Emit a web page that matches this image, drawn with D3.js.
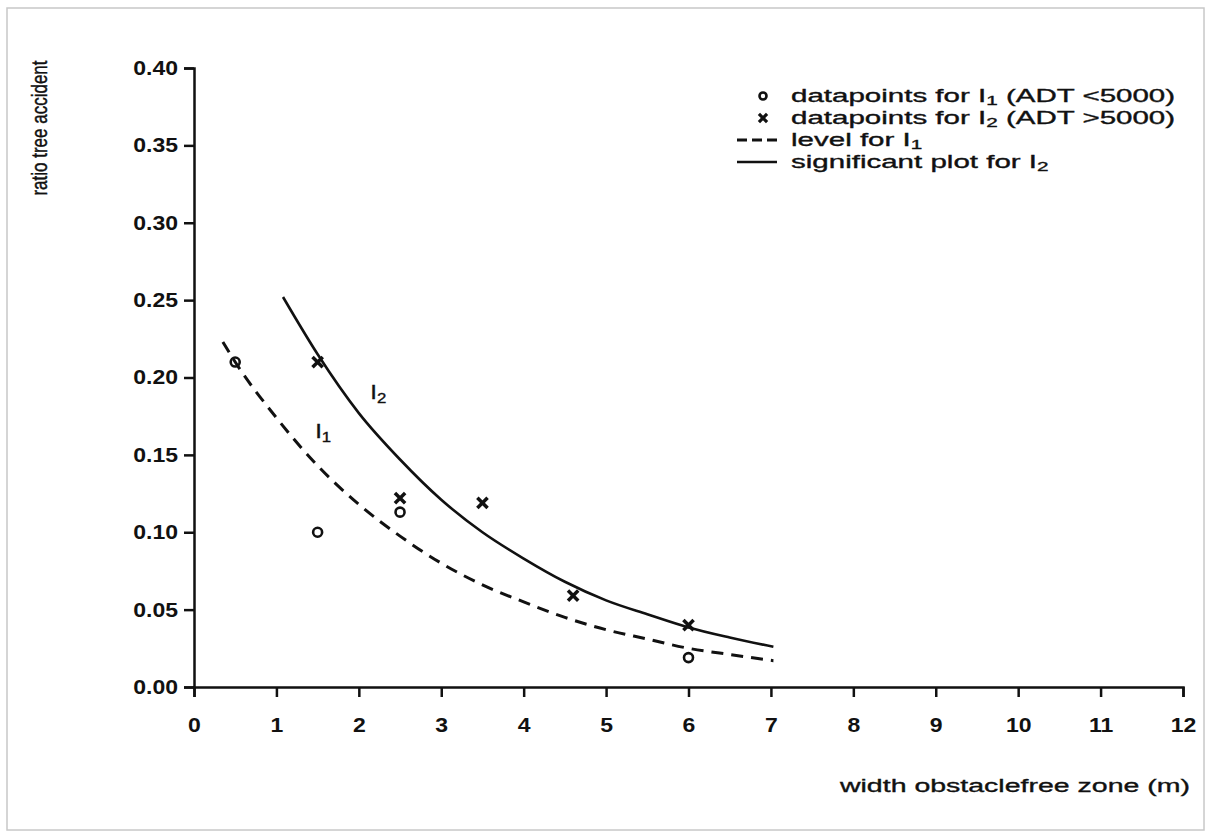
<!DOCTYPE html>
<html>
<head>
<meta charset="utf-8">
<script src="https://cdn.jsdelivr.net/npm/d3@7"></script>
<style>
  body { margin: 0; background: #fff; }
  text { font-family: "Liberation Sans", Arial, sans-serif; fill: #111; }
  .tick text { font-weight: bold; font-size: 20px; }
  .domain, .tick line { stroke: #111; stroke-width: 2.5; }
  .heavy { stroke: #111; stroke-width: 0.35; }
</style>
</head>
<body>
<script>
// data
var i1PointsX = [0.5, 1.5, 2.5, 6.0];
var i1PointsY = [0.21, 0.10, 0.113, 0.019];
var i2PointsX = [1.5, 2.5, 3.5, 4.6, 6.0];
var i2PointsY = [0.21, 0.122, 0.119, 0.059, 0.040];

// level for I1 (dashed)
var i1LineX = [0.35, 0.5, 1, 1.5, 2, 2.5, 3, 3.5, 4, 4.5, 5, 5.5, 6, 6.5, 7.03];
var i1LineY = [0.223, 0.210, 0.174, 0.143, 0.118, 0.0975, 0.080, 0.066, 0.055, 0.045, 0.037, 0.031, 0.025, 0.021, 0.017];
// significant plot for I2 (solid)
var i2LineX = [1.08, 1.5, 2, 2.5, 3, 3.5, 4, 4.5, 5, 5.5, 6, 6.5, 7.03];
var i2LineY = [0.252, 0.215, 0.177, 0.147, 0.121, 0.100, 0.083, 0.068, 0.056, 0.047, 0.0385, 0.032, 0.026];

var xTicks = [0, 1, 2, 3, 4, 5, 6, 7, 8, 9, 10, 11, 12];
var yTicks = [0, 0.05, 0.10, 0.15, 0.20, 0.25, 0.30, 0.35, 0.40];

var legendLabels = [
  ["datapoints for I", "1", " (ADT <5000)"],
  ["datapoints for I", "2", " (ADT >5000)"],
  ["level for I", "1", ""],
  ["significant plot for I", "2", ""]
];

// set the dimensions and margins of the graph
var margin = {top: 68, right: 28, bottom: 148, left: 194},
    width = 1211 - margin.left - margin.right,
    height = 835 - margin.top - margin.bottom;

var x = d3.scaleLinear().domain([0, 12]).range([0, width]);
var y = d3.scaleLinear().domain([0, 0.4]).range([height, 0]);

var root = d3.select("body").append("svg")
    .attr("width", 1211)
    .attr("height", 835);

// faint scan frame
root.append("rect")
    .attr("x", 7).attr("y", 8)
    .attr("width", 1197).attr("height", 822)
    .attr("fill", "none")
    .attr("stroke", "#c8c8c8")
    .attr("stroke-width", 1.5);

var svg = root.append("g")
    .attr("transform", "translate(" + margin.left + "," + margin.top + ")");

function zip(xs, ys) {
  return xs.map(function(v, i) { return {x: v, y: ys[i]}; });
}

// axes (the scan is stretched sideways, so the text is too)
var xAxis = svg.append("g")
    .attr("transform", "translate(0," + height + ")")
    .call(d3.axisBottom(x).tickValues(xTicks).tickSize(10).tickSizeOuter(10)
      .tickFormat(d3.format("d")));
xAxis.selectAll(".tick text")
    .attr("y", 0).attr("dy", 0)
    .attr("transform", "translate(0,45) scale(1.15,1)");

var yAxis = svg.append("g")
    .call(d3.axisLeft(y).tickValues(yTicks).tickSize(10).tickSizeOuter(10)
      .tickFormat(d3.format(".2f")));
yAxis.selectAll(".tick text")
    .attr("x", 0)
    .attr("transform", "translate(-16,0) scale(1.15,1)");

// curves
var line = d3.line()
    .x(function(d) { return x(d.x); })
    .y(function(d) { return y(d.y); })
    .curve(d3.curveMonotoneX);

svg.append("path")
    .datum(zip(i1LineX, i1LineY))
    .attr("d", line)
    .attr("fill", "none")
    .attr("stroke", "#111")
    .attr("stroke-width", 3)
    .attr("stroke-dasharray", "12,8");

svg.append("path")
    .datum(zip(i2LineX, i2LineY))
    .attr("d", line)
    .attr("fill", "none")
    .attr("stroke", "#111")
    .attr("stroke-width", 2.6);

// points
svg.selectAll(".circ")
    .data(zip(i1PointsX, i1PointsY))
    .enter().append("circle")
    .attr("class", "circ")
    .attr("cx", function(d) { return x(d.x); })
    .attr("cy", function(d) { return y(d.y); })
    .attr("r", 4.5)
    .attr("fill", "none")
    .attr("stroke", "#111")
    .attr("stroke-width", 2.6);

var cross = d3.symbol().type(d3.symbolX).size(70);
svg.selectAll(".cross")
    .data(zip(i2PointsX, i2PointsY))
    .enter().append("path")
    .attr("class", "cross")
    .attr("transform", function(d) { return "translate(" + x(d.x) + "," + y(d.y) + ")"; })
    .attr("d", cross)
    .attr("fill", "none")
    .attr("stroke", "#111")
    .attr("stroke-width", 3.5);

// text with a subscript, stretched sideways
function subText(g, px, py, parts, size, sx, drop) {
  var t = g.append("text")
      .attr("class", "heavy")
      .attr("transform", "translate(" + px + "," + py + ") scale(" + sx + ",1)")
      .style("font-size", size + "px");
  t.append("tspan").text(parts[0]);
  t.append("tspan").attr("dy", drop).style("font-size", (size * 0.7) + "px").text(parts[1]);
  if (parts[2]) t.append("tspan").attr("dy", -drop).text(parts[2]);
  return t;
}

// curve labels
subText(svg, x(2.14), y(0.186), ["I", "2"], 20, 1.2, 4);
subText(svg, x(1.47), y(0.161), ["I", "1"], 20, 1.2, 4);

// legend
var legend = root.append("g");
var rows = [96, 118, 140, 162];
legendLabels.forEach(function(lab, i) {
  subText(legend, 791, rows[i] + 6, lab, 18, 1.64, 3);
});
legend.append("circle")
    .attr("cx", 763).attr("cy", rows[0])
    .attr("r", 3.5).attr("fill", "none")
    .attr("stroke", "#111").attr("stroke-width", 2.6);
legend.append("path")
    .attr("transform", "translate(763," + rows[1] + ")")
    .attr("d", d3.symbol().type(d3.symbolX).size(45))
    .attr("stroke", "#111").attr("stroke-width", 3.2);
legend.append("line")
    .attr("x1", 737).attr("x2", 777).attr("y1", rows[2]).attr("y2", rows[2])
    .attr("stroke", "#111").attr("stroke-width", 3)
    .attr("stroke-dasharray", "10,5");
legend.append("line")
    .attr("x1", 737).attr("x2", 777).attr("y1", rows[3]).attr("y2", rows[3])
    .attr("stroke", "#111").attr("stroke-width", 2.4);

// axis titles
root.append("text")
    .attr("class", "heavy")
    .attr("transform", "translate(47,128) scale(1.35,1) rotate(-90)")
    .attr("text-anchor", "middle")
    .style("font-size", "17px")
    .style("font-family", "'Liberation Sans Narrow', 'Liberation Sans', Arial")
    .text("ratio tree accident");

root.append("text")
    .attr("class", "heavy")
    .attr("transform", "translate(1190,792) scale(1.5,1)")
    .attr("text-anchor", "end")
    .style("font-size", "19px")
    .text("width obstaclefree zone (m)");
</script>
</body>
</html>
